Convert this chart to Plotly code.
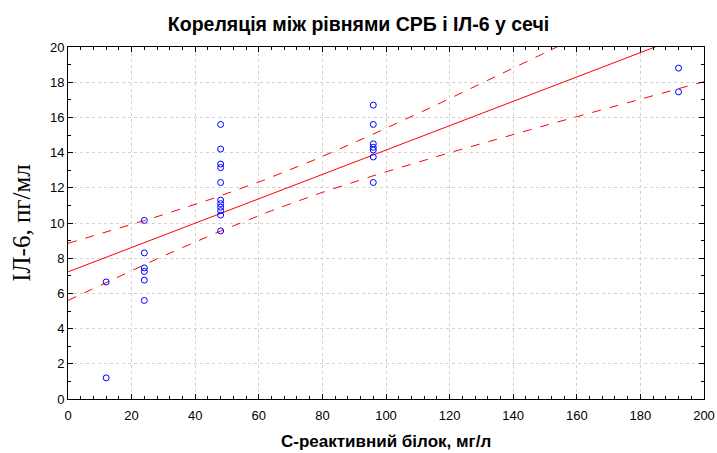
import numpy as np
import plotly.graph_objects as go

# Data
crp = [12, 12,
       24, 24, 24, 24, 24, 24,
       48, 48, 48, 48, 48, 48, 48, 48, 48, 48, 48,
       96, 96, 96, 96, 96, 96, 96,
       192, 192]
il6 = [6.65, 1.2,
       10.15, 8.3, 7.45, 7.25, 6.75, 5.6,
       15.6, 14.2, 13.35, 13.15, 12.3, 11.3, 11.1, 10.9, 10.7, 10.45, 9.55,
       16.7, 15.6, 14.5, 14.3, 14.15, 13.75, 12.3,
       18.8, 17.45]

x_ticks = [0, 20, 40, 60, 80, 100, 120, 140, 160, 180, 200]
y_ticks = [0, 2, 4, 6, 8, 10, 12, 14, 16, 18, 20]

x = np.array(crp, dtype=float)
y = np.array(il6, dtype=float)
n = len(x)
b, a = np.polyfit(x, y, 1)
resid = y - (a + b * x)
s = np.sqrt(np.sum(resid ** 2) / (n - 2))
t_crit = 2.056  # t(0.975, df=26)
xs = np.linspace(0, 200, 201)
fit = a + b * xs
half = t_crit * s * np.sqrt(1.0 / n + (xs - x.mean()) ** 2 / np.sum((x - x.mean()) ** 2))

fig = go.Figure()
fig.add_trace(go.Scatter(x=xs, y=fit + half, mode="lines",
                         line=dict(color="#ff0000", width=1, dash="dash"), hoverinfo="skip"))
fig.add_trace(go.Scatter(x=xs, y=fit - half, mode="lines",
                         line=dict(color="#ff0000", width=1, dash="dash"), hoverinfo="skip"))
fig.add_trace(go.Scatter(x=xs, y=fit, mode="lines",
                         line=dict(color="#ff0000", width=1), hoverinfo="skip"))
fig.add_trace(go.Scatter(x=crp, y=il6, mode="markers",
                         marker=dict(symbol="circle-open", size=6, color="#0000ff",
                                     line=dict(width=1, color="#0000ff"))))

fig.update_layout(
    width=717, height=453,
    margin=dict(l=68, r=13, t=47, b=54, autoexpand=False),
    paper_bgcolor="white", plot_bgcolor="white",
    showlegend=False,
    font=dict(family="Liberation Sans, Arial, sans-serif", size=13, color="black"),
    title=dict(text="<b>Кореляція між рівнями СРБ і ІЛ-6 у сечі</b>",
               x=0.5, xanchor="center", y=0.947, yanchor="middle",
               font=dict(size=19.5, family="Liberation Sans, Arial, sans-serif")),
    annotations=[dict(text="<b>С-реактивний білок, мг/л</b>", xref="paper", yref="paper",
                      x=0.5, y=-42 / 352, xanchor="center", yanchor="middle",
                      showarrow=False, font=dict(size=17))],
)
axis_common = dict(showline=True, linecolor="black", linewidth=1, mirror="ticks",
                   ticks="inside", ticklen=5, tickcolor="black",
                   showgrid=True, gridcolor="#d2d2d2", griddash="dot", gridwidth=1,
                   zeroline=False, automargin=False)
fig.update_xaxes(range=[0, 200], tickvals=x_ticks, ticktext=[str(v) for v in x_ticks],
                 ticklabelstandoff=4,
                 minor=dict(dtick=4, ticks="inside", ticklen=3, tickcolor="black", showgrid=False),
                 **axis_common)
fig.update_yaxes(range=[0, 20], tickvals=y_ticks, ticktext=[str(v) for v in y_ticks],
                 minor=dict(dtick=1, ticks="inside", ticklen=3, tickcolor="black", showgrid=False),
                 title=dict(text="ІЛ-6, пг/мл", standoff=12,
                            font=dict(size=25, family="Liberation Serif, Times New Roman, serif")),
                 **axis_common)

fig.write_html("out.html", config={"displayModeBar": False},
               post_script="document.body.style.margin='0';document.body.style.overflow='hidden';")
